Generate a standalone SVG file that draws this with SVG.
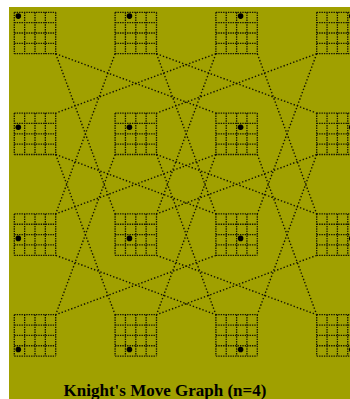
<svg xmlns="http://www.w3.org/2000/svg" width="350" height="399" viewBox="0 0 350 399">
<style>
.grid{fill:none;stroke:#141400;stroke-width:1.3;stroke-dasharray:1.4 1}
.edge{fill:none;stroke:#141400;stroke-width:1.4;stroke-dasharray:1.4 2}
.kn{fill:#000}
.title{font-family:"Liberation Serif","Times New Roman",serif;font-weight:bold;font-size:17px;fill:#000}
</style>
<defs>
<path id="board" class="grid" d="M0,0H41.4M0,10.35H41.4M0,20.7H41.4M0,31.05H41.4M0,41.4H41.4M0,0V41.4M10.35,0V41.4M20.7,0V41.4M31.05,0V41.4M41.4,0V41.4"/>
</defs>
<rect width="350" height="399" fill="#fff"/>
<rect x="9" y="7" width="341" height="392" fill="#a0a000"/>
<g id="connectors">
<line class="edge" x1="55.7" y1="53.7" x2="115.1" y2="213.9"/>
<line class="edge" x1="55.7" y1="53.7" x2="215.9" y2="113.1"/>
<line class="edge" x1="115.1" y1="53.7" x2="55.7" y2="213.9"/>
<line class="edge" x1="156.5" y1="53.7" x2="215.9" y2="213.9"/>
<line class="edge" x1="156.5" y1="53.7" x2="316.7" y2="113.1"/>
<line class="edge" x1="215.9" y1="53.7" x2="156.5" y2="213.9"/>
<line class="edge" x1="257.3" y1="53.7" x2="316.7" y2="213.9"/>
<line class="edge" x1="215.9" y1="53.7" x2="55.7" y2="113.1"/>
<line class="edge" x1="316.7" y1="53.7" x2="257.3" y2="213.9"/>
<line class="edge" x1="316.7" y1="53.7" x2="156.5" y2="113.1"/>
<line class="edge" x1="55.7" y1="154.5" x2="115.1" y2="314.7"/>
<line class="edge" x1="55.7" y1="154.5" x2="215.9" y2="213.9"/>
<line class="edge" x1="115.1" y1="154.5" x2="55.7" y2="314.7"/>
<line class="edge" x1="156.5" y1="154.5" x2="215.9" y2="314.7"/>
<line class="edge" x1="156.5" y1="154.5" x2="316.7" y2="213.9"/>
<line class="edge" x1="215.9" y1="154.5" x2="156.5" y2="314.7"/>
<line class="edge" x1="257.3" y1="154.5" x2="316.7" y2="314.7"/>
<line class="edge" x1="215.9" y1="154.5" x2="55.7" y2="213.9"/>
<line class="edge" x1="316.7" y1="154.5" x2="257.3" y2="314.7"/>
<line class="edge" x1="316.7" y1="154.5" x2="156.5" y2="213.9"/>
<line class="edge" x1="55.7" y1="255.3" x2="215.9" y2="314.7"/>
<line class="edge" x1="156.5" y1="255.3" x2="316.7" y2="314.7"/>
<line class="edge" x1="215.9" y1="255.3" x2="55.7" y2="314.7"/>
<line class="edge" x1="316.7" y1="255.3" x2="156.5" y2="314.7"/>
</g>
<g id="n00" transform="translate(14.3,12.3)"><use href="#board"/><circle class="kn" cx="4.0" cy="3.8" r="2.8"/></g>
<g id="n10" transform="translate(115.1,12.3)"><use href="#board"/><circle class="kn" cx="14.35" cy="3.8" r="2.8"/></g>
<g id="n20" transform="translate(215.9,12.3)"><use href="#board"/><circle class="kn" cx="24.7" cy="3.8" r="2.8"/></g>
<g id="n30" transform="translate(316.7,12.3)"><use href="#board"/><circle class="kn" cx="35.05" cy="3.8" r="2.8"/></g>
<g id="n01" transform="translate(14.3,113.1)"><use href="#board"/><circle class="kn" cx="4.0" cy="14.15" r="2.8"/></g>
<g id="n11" transform="translate(115.1,113.1)"><use href="#board"/><circle class="kn" cx="14.35" cy="14.15" r="2.8"/></g>
<g id="n21" transform="translate(215.9,113.1)"><use href="#board"/><circle class="kn" cx="24.7" cy="14.15" r="2.8"/></g>
<g id="n31" transform="translate(316.7,113.1)"><use href="#board"/><circle class="kn" cx="35.05" cy="14.15" r="2.8"/></g>
<g id="n02" transform="translate(14.3,213.9)"><use href="#board"/><circle class="kn" cx="4.0" cy="24.5" r="2.8"/></g>
<g id="n12" transform="translate(115.1,213.9)"><use href="#board"/><circle class="kn" cx="14.35" cy="24.5" r="2.8"/></g>
<g id="n22" transform="translate(215.9,213.9)"><use href="#board"/><circle class="kn" cx="24.7" cy="24.5" r="2.8"/></g>
<g id="n32" transform="translate(316.7,213.9)"><use href="#board"/><circle class="kn" cx="35.05" cy="24.5" r="2.8"/></g>
<g id="n03" transform="translate(14.3,314.7)"><use href="#board"/><circle class="kn" cx="4.0" cy="34.85" r="2.8"/></g>
<g id="n13" transform="translate(115.1,314.7)"><use href="#board"/><circle class="kn" cx="14.35" cy="34.85" r="2.8"/></g>
<g id="n23" transform="translate(215.9,314.7)"><use href="#board"/><circle class="kn" cx="24.7" cy="34.85" r="2.8"/></g>
<g id="n33" transform="translate(316.7,314.7)"><use href="#board"/><circle class="kn" cx="35.05" cy="34.85" r="2.8"/></g>
<text class="title" x="165" y="395.5" text-anchor="middle">Knight's Move Graph (n=4)</text>
</svg>
